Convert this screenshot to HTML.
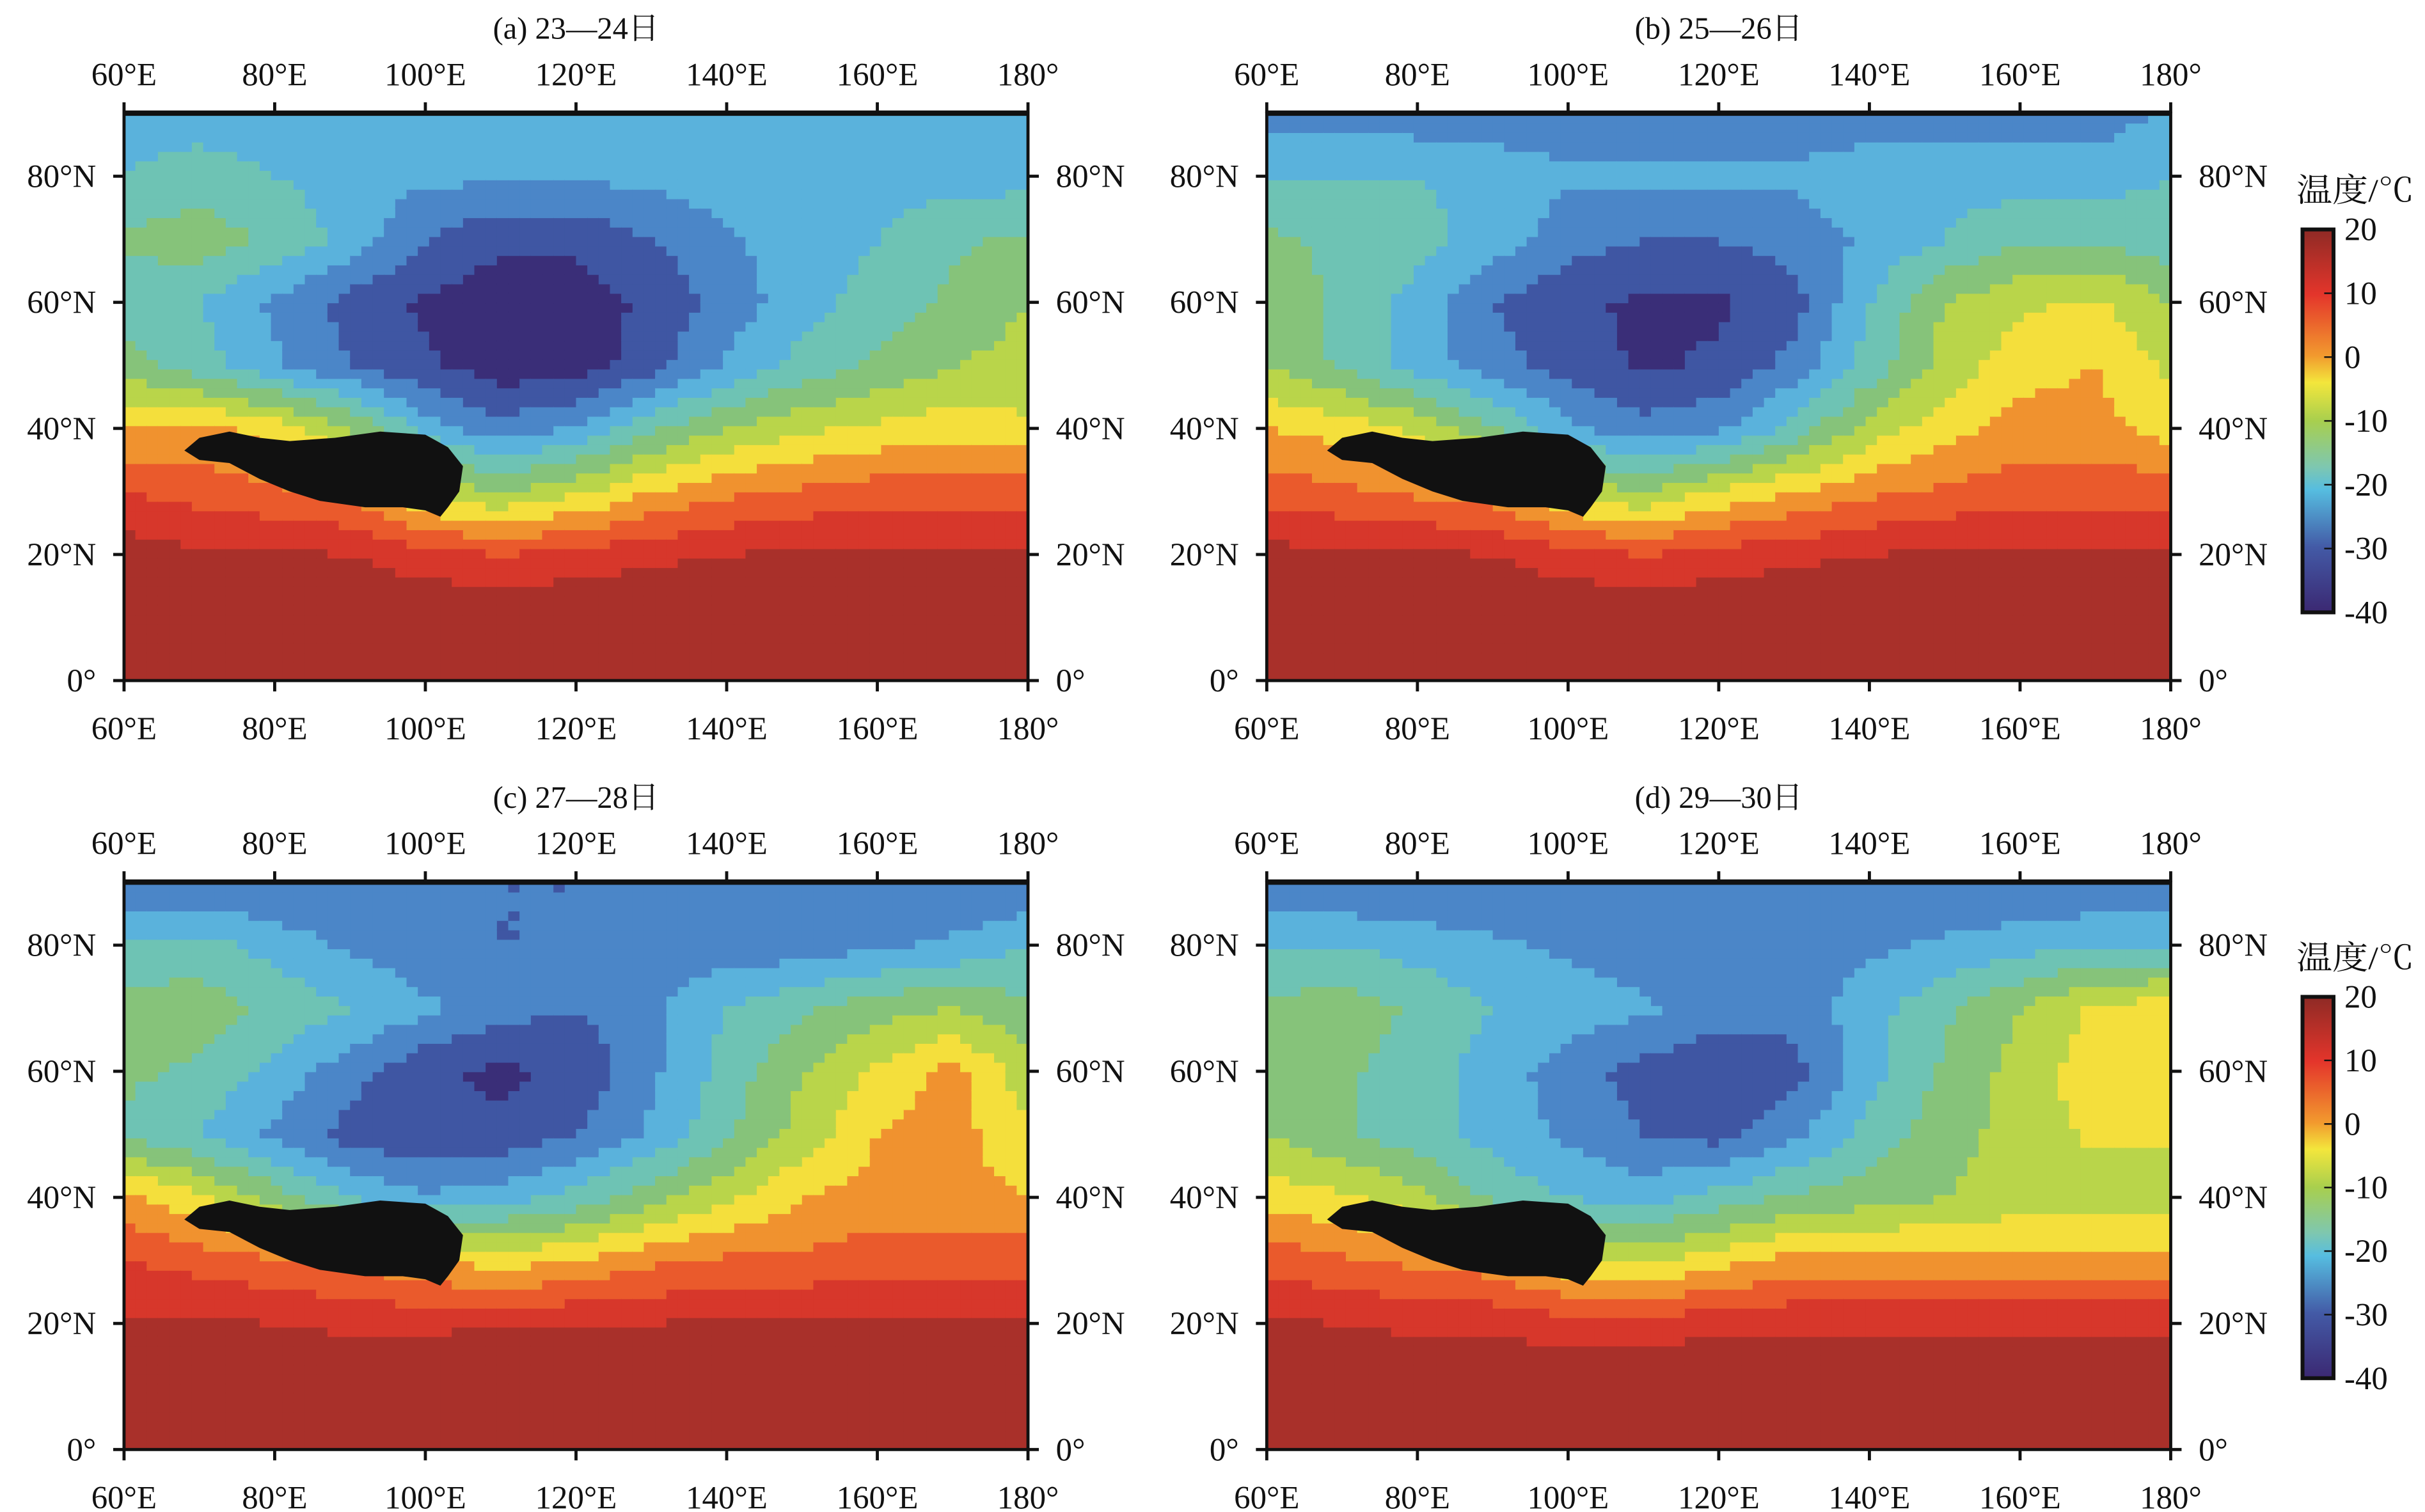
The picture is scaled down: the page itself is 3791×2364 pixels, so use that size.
<!DOCTYPE html>
<html><head><meta charset="utf-8"><style>
html,body{margin:0;padding:0;background:#fff}
svg{display:block}
text{font-family:"Liberation Serif","Noto Serif CJK SC",serif;fill:#111}
</style></head><body>
<svg id="fig" width="3791" height="2364" viewBox="0 0 1564 975.3" preserveAspectRatio="none" xmlns="http://www.w3.org/2000/svg">
<defs>
<linearGradient id="cbg" x1="0" y1="0" x2="0" y2="1">
<stop offset="0" stop-color="#8e2a25"/><stop offset="0.17" stop-color="#e4352b"/>
<stop offset="0.33" stop-color="#f29a2e"/><stop offset="0.4" stop-color="#f3e63c"/>
<stop offset="0.5" stop-color="#a8cf4e"/><stop offset="0.62" stop-color="#7ec7b0"/>
<stop offset="0.68" stop-color="#56bde0"/><stop offset="0.83" stop-color="#435aa6"/>
<stop offset="1" stop-color="#3b2872"/></linearGradient>
</defs>
</svg>
<script>
const lonTicks=[60,80,100,120,140,160,180];
const lonLabels=["60°E","80°E","100°E","120°E","140°E","160°E","180°"];
const latTicks=[0,20,40,60,80];
const latLabels=["0°","20°N","40°N","60°N","80°N"];
const gridLons=[60,70,80,90,100,110,120,130,140,150,160,170,180];
const gridLats=[90,80,70,60,50,40,30,20,10,0];
const titles=["(a) 23—24日","(b) 25—26日","(c) 27—28日","(d) 29—30日"];
const fieldA=[
[-22,-22,-22,-22,-22,-22,-22,-22,-22,-22,-22,-22,-22],
[-20,-18,-20,-22,-24,-24,-24,-24,-22,-22,-22,-22,-22],
[-14,-12,-16,-22,-30,-34,-34,-30,-26,-22,-20,-16,-14],
[-18,-20,-26,-32,-36,-38,-38,-34,-28,-22,-18,-14,-10],
[-12,-18,-24,-30,-34,-38,-38,-32,-24,-18,-14,-10,-8],
[0,2,-2,-10,-22,-28,-24,-16,-10,-6,-4,-2,-4],
[10,8,6,4,-6,-10,-6,0,4,6,8,8,8],
[18,16,16,15,12,10,12,14,15,16,16,16,16],
[20,20,20,20,20,20,20,20,20,20,20,20,20],
[20,20,20,20,20,20,20,20,20,20,20,20,20]];
const fieldB=[
[-28,-28,-28,-28,-28,-28,-28,-28,-28,-28,-28,-28,-24],
[-20,-20,-20,-22,-24,-24,-24,-24,-22,-22,-22,-22,-20],
[-14,-16,-18,-22,-28,-30,-30,-28,-24,-20,-16,-16,-18],
[-12,-16,-22,-30,-34,-36,-36,-32,-20,-10,-6,-4,-10],
[-10,-16,-22,-28,-32,-36,-34,-28,-18,-8,-2,0,-6],
[0,-2,-6,-14,-24,-28,-26,-18,-8,-2,2,2,-2],
[8,6,4,2,-6,-10,-4,0,4,6,8,8,8],
[17,16,16,15,12,10,12,14,15,16,16,16,16],
[20,20,20,20,20,20,20,20,20,20,20,20,20],
[20,20,20,20,20,20,20,20,20,20,20,20,20]];
const fieldC=[
[-30,-30,-30,-30,-30,-30,-30,-30,-30,-30,-30,-30,-30],
[-18,-18,-22,-26,-28,-30,-30,-28,-28,-28,-26,-24,-20],
[-14,-12,-16,-20,-24,-28,-30,-26,-20,-16,-12,-10,-14],
[-14,-16,-22,-28,-34,-36,-34,-26,-18,-10,-4,2,-8],
[-16,-20,-26,-32,-34,-34,-30,-24,-16,-8,0,2,-4],
[2,-4,-12,-20,-24,-22,-18,-12,-6,0,2,2,0],
[10,8,6,4,0,-2,0,4,6,6,8,8,8],
[16,16,15,14,14,15,15,15,16,16,16,16,16],
[20,20,20,20,20,20,20,20,20,20,20,20,20],
[20,20,20,20,20,20,20,20,20,20,20,20,20]];
const fieldD=[
[-30,-30,-30,-30,-30,-30,-30,-30,-30,-30,-30,-30,-30],
[-20,-20,-22,-24,-26,-28,-28,-28,-26,-24,-22,-20,-20],
[-14,-12,-16,-20,-22,-24,-28,-28,-22,-16,-10,-4,-2],
[-12,-14,-18,-22,-28,-32,-34,-32,-22,-14,-8,-2,0],
[-10,-14,-18,-22,-26,-30,-32,-26,-18,-12,-8,-4,-4],
[-2,-4,-8,-16,-20,-22,-18,-14,-12,-10,-8,-8,-8],
[8,6,4,2,-4,-6,-2,2,2,2,2,2,2],
[16,15,14,14,12,12,14,14,14,14,14,14,14],
[20,20,20,20,20,20,20,20,20,20,20,20,20],
[20,20,20,20,20,20,20,20,20,20,20,20,20]];
const fields=[fieldA,fieldB,fieldC,fieldD];
const plateauLon=[68,70,74,78,82,88,94,100,103,105,104.5,103,102,100,97,92,86,82,78,74,70];
const plateauLat=[36.5,38.5,39.5,38.5,38,38.5,39.5,39,37,34,30,27.5,26,27,27.5,27.5,28.5,30,32,34.5,35];
const cbTicks=[20,10,0,-10,-20,-30,-40];

const NS="http://www.w3.org/2000/svg";
const svg=document.getElementById('fig');
function mk(tag,attrs,parent){const e=document.createElementNS(NS,tag);for(const k in attrs)e.setAttribute(k,attrs[k]);(parent||svg).appendChild(e);return e;}
const bands=[[15,"#a9302a"],[10,"#d7372b"],[5,"#ea5a2c"],[0,"#f0922f"],[-5,"#f4df3c"],[-10,"#b9d54a"],[-15,"#86c37a"],[-20,"#6ec3b4"],[-25,"#5ab2dc"],[-30,"#4b86c8"],[-35,"#3f56a3"],[-999,"#3a2e78"]];
function color(t){for(const b of bands)if(t>=b[0])return b[1];return "#3a2e78";}
function sample(f,lon,lat){
  let ci=(lon-60)/10, ri=(90-lat)/10;
  ci=Math.max(0,Math.min(12,ci)); ri=Math.max(0,Math.min(9,ri));
  const c0=Math.min(11,Math.floor(ci)), r0=Math.min(8,Math.floor(ri));
  const fx=ci-c0, fy=ri-r0;
  return f[r0][c0]*(1-fx)*(1-fy)+f[r0][c0+1]*fx*(1-fy)+f[r0+1][c0]*(1-fx)*fy+f[r0+1][c0+1]*fx*fy;
}
const panels=[[80,73],[817,73],[80,569],[817,569]];
const PW=583, PH=366;
panels.forEach((p,pi)=>{
  const [x0,y0]=p;
  const xs=lon=>x0+(lon-60)/120*PW, ys=lat=>y0+PH-(lat)/90*PH;
  const g=mk('g',{});
  
  
  const f=fields[pi];
  const step=1.5;
  for(let lon=60;lon<180;lon+=step){
    for(let lat=0;lat<90;lat+=step){
      const t=sample(f,lon+step/2,lat+step/2);
      const r=mk('rect',{x:xs(lon).toFixed(2),y:ys(lat+step).toFixed(2),width:(PW*step/120+0.6).toFixed(2),height:(PH*step/90+0.6).toFixed(2),fill:color(t)},g);
      
      
    }
  }
  const pts=plateauLon.map((lo,i)=>xs(lo).toFixed(1)+','+ys(plateauLat[i]).toFixed(1)).join(' ');
  const pl=mk('polygon',{points:pts,fill:'#111'},g);
  
  
  const fr=mk('rect',{x:x0,y:y0,width:PW,height:PH,fill:'none',stroke:'#111','stroke-width':2},g);
  
  
  mk('line',{x1:x0,y1:y0,x2:x0+PW,y2:y0,stroke:'#111','stroke-width':3.5},g);
  const tt=mk('text',{x:x0+PW/2,y:y0-48,'font-size':20,'text-anchor':'middle'},g);
  tt.textContent=titles[pi];
  
  
  lonTicks.forEach((lo,i)=>{
    const x=xs(lo);
    mk('line',{x1:x,y1:y0+PH,x2:x,y2:y0+PH+7,stroke:'#111','stroke-width':2},g);
    mk('line',{x1:x,y1:y0,x2:x,y2:y0-7,stroke:'#111','stroke-width':2},g);
    const b=mk('text',{x:x,y:y0+PH+38,'font-size':21,'text-anchor':'middle'},g);
    b.textContent=lonLabels[i];
    
    
    const t=mk('text',{x:x,y:y0-18,'font-size':21,'text-anchor':'middle'},g);
    t.textContent=lonLabels[i];
    
    
  });
  latTicks.forEach((la,i)=>{
    const y=ys(la);
    mk('line',{x1:x0-7,y1:y,x2:x0,y2:y,stroke:'#111','stroke-width':2},g);
    mk('line',{x1:x0+PW,y1:y,x2:x0+PW+7,y2:y,stroke:'#111','stroke-width':2},g);
    const l=mk('text',{x:x0-18,y:y+7,'font-size':21,'text-anchor':'end'},g);
    l.textContent=latLabels[i];
    
    
    const r=mk('text',{x:x0+PW+18,y:y+7,'font-size':21,'text-anchor':'start'},g);
    r.textContent=latLabels[i];
    
    
  });
});
[[148,395],[643,889]].forEach(([top,bot],ci)=>{
  const g=mk('g',{});
  
  
  mk('rect',{x:1485,y:top,width:20,height:bot-top,fill:'url(#cbg)',stroke:'#111','stroke-width':2.5},g);
  const tl=mk('text',{x:1481,y:top-18,'font-size':21,textLength:76,lengthAdjust:'spacingAndGlyphs'},g);
  tl.textContent='温度/℃';
  
  
  cbTicks.forEach(v=>{
    const y=top+(20-v)/60*(bot-top);
    mk('line',{x1:1499,y1:y,x2:1505,y2:y,stroke:'#111','stroke-width':1},g);
    const t=mk('text',{x:1512,y:y+7,'font-size':21},g);
    t.textContent=String(v);
    
    
  });
});
</script>
</body></html>
